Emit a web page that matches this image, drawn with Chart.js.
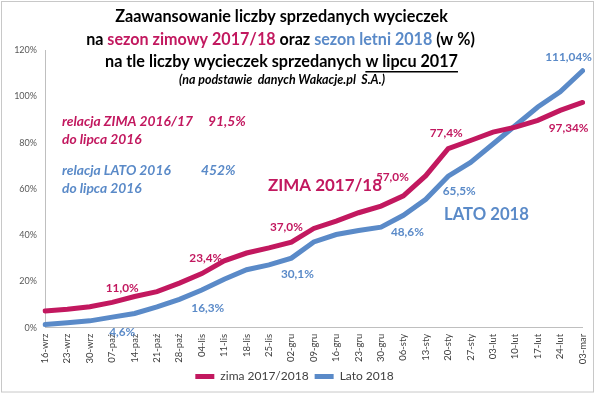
<!DOCTYPE html>
<html>
<head>
<meta charset="utf-8">
<script src="https://cdn.jsdelivr.net/npm/chart.js@4.4.1/dist/chart.umd.min.js"></script>
<style>
  body { margin: 0; background: #fff; }
  #chart { display: block; }
</style>
</head>
<body>
<canvas id="chart" width="600" height="395"></canvas>
<script>
// Zaawansowanie sprzedaży wycieczek - zima 2017/18 vs lato 2018

const categories = ['16-wrz', '23-wrz', '30-wrz', '07-paź', '14-paź', '21-paź', '28-paź',
    '04-lis', '11-lis', '18-lis', '25-lis', '02-gru', '09-gru', '16-gru', '23-gru', '30-gru',
    '06-sty', '13-sty', '20-sty', '27-sty', '03-lut', '10-lut', '17-lut', '24-lut', '03-mar'];

const zima = [7.3, 8.0, 9.1, 11.0, 13.5, 15.6, 19.3, 23.4, 28.9, 32.3, 34.5, 37.0, 42.9,
    46.1, 49.7, 52.6, 57.0, 65.7, 77.4, 80.9, 84.5, 86.7, 89.6, 93.9, 97.34];

const lato = [1.4, 2.2, 3.0, 4.6, 6.2, 9.0, 12.3, 16.3, 21.0, 25.1, 27.2, 30.1, 37.1,
    40.3, 42.0, 43.5, 48.6, 55.5, 65.5, 71.4, 79.4, 87.4, 95.4, 101.9, 111.04];

const yTicks = [0, 20, 40, 60, 80, 100, 120];

// points that carry a value label
const labelledPoints = [3, 7, 11, 16, 18, 24];

const PINK = '#c2185f';
const BLUE = '#5a8ac8';
const FONT = 'Lato';

Chart.defaults.font.family = FONT;

function fitFont(ctx, text, style, width) {
    ctx.font = style + ' 20px ' + FONT;
    const size = 20 * width / ctx.measureText(text).width;
    ctx.font = style + ' ' + size.toFixed(2) + 'px ' + FONT;
}

function fmt(v) {
    const s = String(v);
    const dec = s.indexOf('.') >= 0 ? s.split('.')[1].length : 1;
    return v.toFixed(Math.max(dec, 1)).replace('.', ',') + '%';
}

// draws a centred line built from coloured pieces
function drawTitleLine(ctx, parts, cx, cy, style, width) {
    const full = parts.map(p => p.text).join('');
    fitFont(ctx, full, style, width);
    let x = cx - ctx.measureText(full).width / 2;
    ctx.textBaseline = 'middle';
    ctx.textAlign = 'left';
    parts.forEach(p => {
        const w = ctx.measureText(p.text).width;
        ctx.fillStyle = p.color || '#000';
        ctx.fillText(p.text, x, cy);
        if (p.underline) {
            ctx.fillRect(x, cy + 9, w, 1.5);
        }
        x += w;
    });
}

const chartDecor = {
    id: 'chartDecor',
    beforeDraw(chart) {
        const ctx = chart.ctx;
        ctx.save();
        ctx.fillStyle = '#fff';
        ctx.fillRect(0, 0, chart.width, chart.height);
        ctx.strokeStyle = '#c8c8c8';
        ctx.lineWidth = 1;
        ctx.strokeRect(1.5, 1.5, 592, 390.5);
        ctx.restore();
    },
    afterDraw(chart) {
        const ctx = chart.ctx;
        const xs = chart.scales.x, ys = chart.scales.y;
        ctx.save();

        // title block
        drawTitleLine(ctx, [{ text: 'Zaawansowanie liczby sprzedanych wycieczek' }], 281.5, 17, 'bold', 333);
        drawTitleLine(ctx, [
            { text: 'na ' },
            { text: 'sezon zimowy 2017/18', color: PINK },
            { text: ' oraz ' },
            { text: 'sezon letni 2018', color: BLUE },
            { text: ' (w %)' }
        ], 280.5, 40, 'bold', 389);
        drawTitleLine(ctx, [
            { text: 'na tle liczby wycieczek sprzedanych ' },
            { text: 'w lipcu 2017', underline: true }
        ], 281.5, 62, 'bold', 353);
        drawTitleLine(ctx, [{ text: '(na podstawie  danych Wakacje.pl  S.A.)' }], 282, 80, 'italic bold', 206);

        // notes on the left
        ctx.textAlign = 'left';
        ctx.textBaseline = 'middle';
        fitFont(ctx, 'relacja ZIMA 2016/17', 'italic bold', 131);
        ctx.fillStyle = PINK;
        ctx.fillText('relacja ZIMA 2016/17', 62, 122);
        ctx.fillText('91,5%', 208, 122);
        ctx.fillText('do lipca 2016', 62, 140);
        ctx.fillStyle = BLUE;
        ctx.fillText('relacja LATO 2016', 62, 171);
        ctx.fillText('452%', 201, 171);
        ctx.fillText('do lipca 2016', 62, 189);

        // series names
        fitFont(ctx, 'ZIMA 2017/18', 'bold', 114);
        ctx.fillStyle = PINK;
        ctx.fillText('ZIMA 2017/18', 268, 186);
        fitFont(ctx, 'LATO 2018', 'bold', 85);
        ctx.fillStyle = BLUE;
        ctx.fillText('LATO 2018', 444, 215);

        // value labels
        const zimaOff = { 3: [10, -14], 7: [4, -15], 11: [-5, -15], 16: [-11, -19], 18: [-2, -15], 24: [-14, 26] };
        const latoOff = { 3: [10, 15], 7: [6, 18], 11: [6, 16], 16: [4, 17], 18: [11, 15], 24: [-14, -14] };
        fitFont(ctx, '11,0%', 'bold', 33);
        ctx.textAlign = 'center';
        labelledPoints.forEach(i => {
            const px = xs.getPixelForValue(i);
            ctx.fillStyle = PINK;
            ctx.fillText(fmt(zima[i]), px + zimaOff[i][0], ys.getPixelForValue(zima[i]) + zimaOff[i][1]);
            ctx.fillStyle = BLUE;
            ctx.fillText(fmt(lato[i]), px + latoOff[i][0], ys.getPixelForValue(lato[i]) + latoOff[i][1]);
        });
        ctx.restore();
    }
};

const ctx = document.getElementById('chart');
new Chart(ctx, {
    type: 'line',
    data: {
        labels: categories,
        datasets: [{
            label: 'zima 2017/2018',
            data: zima,
            borderColor: PINK,
            backgroundColor: PINK,
            borderWidth: 5,
            borderCapStyle: 'round',
            pointRadius: 0,
            tension: 0
        }, {
            label: 'Lato 2018',
            data: lato,
            borderColor: BLUE,
            backgroundColor: BLUE,
            borderWidth: 5,
            borderCapStyle: 'round',
            pointRadius: 0,
            tension: 0
        }]
    },
    options: {
        responsive: false,
        animation: false,
        layout: {
            padding: { top: 50, left: 5, right: 16, bottom: 2.6 }
        },
        plugins: {
            legend: {
                position: 'bottom',
                labels: {
                    usePointStyle: true,
                    pointStyle: 'line',
                    pointStyleWidth: 19,
                    boxHeight: 5,
                    padding: 6,
                    color: '#404040',
                    font: { size: 12 }
                }
            },
            tooltip: { enabled: false }
        },
        scales: {
            x: {
                offset: false,
                grid: { display: false, drawTicks: false },
                border: { color: '#bfbfbf' },
                ticks: {
                    minRotation: 90,
                    maxRotation: 90,
                    autoSkip: false,
                    padding: 6,
                    color: '#404040',
                    font: { size: 9.5 }
                },
                afterFit(scale) { scale.height = 36.6; }
            },
            y: {
                min: 0,
                max: 120,
                afterBuildTicks(scale) { scale.ticks = yTicks.map(v => ({ value: v })); },
                ticks: {
                    callback: v => v + '%',
                    padding: 8,
                    color: '#595959',
                    font: { size: 9 }
                },
                grid: { display: false, drawTicks: false },
                border: { color: '#bfbfbf' },
                afterFit(scale) { scale.width = 40; }
            }
        }
    },
    plugins: [chartDecor]
});
</script>
</body>
</html>
